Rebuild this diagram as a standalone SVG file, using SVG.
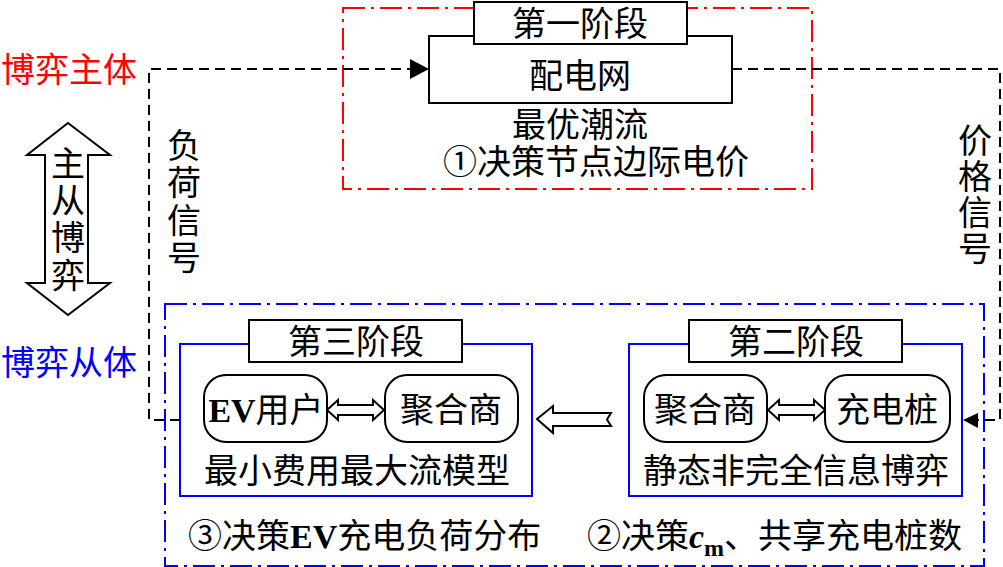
<svg xmlns="http://www.w3.org/2000/svg" width="1003" height="567" viewBox="0 0 1003 567">
<style>
text{font-family:"Liberation Serif","Noto Sans CJK SC",serif;font-size:34px;fill:#000}
.c{text-anchor:middle}
.box{fill:#fff;stroke:#000;stroke-width:2}
.blue{fill:none;stroke:#0000ff;stroke-width:2}
.rbox{fill:#fff;stroke:#000;stroke-width:2}
.dash{fill:none;stroke:#000;stroke-width:2;stroke-dasharray:10 6}
.hollow{fill:#fff;stroke:#000;stroke-width:2;stroke-linejoin:miter}
.lat{font-family:"Liberation Serif",serif;font-weight:bold}
</style>
<rect width="1003" height="567" fill="#fff"/>
<g id="stage1-region">
<rect x="343" y="8" width="469" height="181" fill="none" stroke="#ff0000" stroke-width="2" stroke-dasharray="22 6 3 6"/>
</g>
<g id="stage23-region">
<rect x="165" y="304" width="819" height="262" fill="none" stroke="#0000ff" stroke-width="2" stroke-dasharray="22 6 3 6"/>
</g>
<g id="labels">
<text x="1" y="82" style="fill:#ff0000">博弈主体</text>
<text x="1" y="375" style="fill:#0000ff">博弈从体</text>
</g>
<g id="leader-follower">
<polygon class="hollow" points="68,123 110,155 88,155 88,283 110,283 68,315 27,283 45,283 45,155 27,155"/>
<text class="c" x="68" y="176">主</text>
<text class="c" x="68" y="213">从</text>
<text class="c" x="68" y="250">博</text>
<text class="c" x="68" y="288">弈</text>
</g>
<g id="connectors">
<polyline class="dash" points="180,420 149,420 149,69 414,69"/>
<polygon points="429,69 410,59 410,79" fill="#000"/>
<polyline class="dash" points="732,69 1000,69 1000,420 976,420"/>
<polygon points="963,420 978,413 978,428" fill="#000"/>
<polygon class="hollow" points="537,419 553,406 553,413 611,413 607,419.5 611,426 553,426 553,433"/>
</g>
<g id="load-signal">
<text class="c" x="184" y="158">负</text>
<text class="c" x="184" y="195">荷</text>
<text class="c" x="184" y="233">信</text>
<text class="c" x="184" y="270">号</text>
</g>
<g id="price-signal">
<text class="c" x="975" y="153">价</text>
<text class="c" x="975" y="189">格</text>
<text class="c" x="975" y="225">信</text>
<text class="c" x="975" y="261">号</text>
</g>
<g id="distribution-network">
<rect class="box" x="429" y="36" width="303" height="67"/>
<rect class="box" x="474" y="2" width="213" height="42"/>
<text class="c" x="580" y="36">第一阶段</text>
<text class="c" x="580" y="88">配电网</text>
<text class="c" x="580" y="137">最优潮流</text>
<text class="c" x="596" y="174">①决策节点边际电价</text>
</g>
<g id="stage3">
<rect class="blue" x="180" y="344" width="352" height="152"/>
<rect class="box" x="249" y="320" width="213" height="42"/>
<text class="c" x="356" y="354">第三阶段</text>
<rect class="rbox" x="204" y="375" width="123" height="67" rx="22"/>
<text class="c" x="266" y="422"><tspan class="lat">EV</tspan>用户</text>
<rect class="rbox" x="385" y="375" width="133" height="67" rx="22"/>
<text class="c" x="451" y="422">聚合商</text>
<polygon class="hollow" points="327,410 338,400 338,405 373,405 373,400 384,410 373,420 373,415 338,415 338,420"/>
<text class="c" x="357" y="483">最小费用最大流模型</text>
</g>
<g id="stage2">
<rect class="blue" x="629" y="344" width="333" height="152"/>
<rect class="box" x="689" y="320" width="213" height="42"/>
<text class="c" x="796" y="354">第二阶段</text>
<rect class="rbox" x="644" y="375" width="123" height="67" rx="22"/>
<text class="c" x="705" y="422">聚合商</text>
<rect class="rbox" x="825" y="375" width="125" height="67" rx="22"/>
<text class="c" x="887" y="422">充电桩</text>
<polygon class="hollow" points="768,410 779,400 779,405 814,405 814,400 825,410 814,420 814,415 779,415 779,420"/>
<text class="c" x="796" y="483">静态非完全信息博弈</text>
</g>
<g id="decisions">
<text x="188" y="548">③决策<tspan class="lat">EV</tspan>充电负荷分布</text>
<text x="587" y="548">②决策<tspan class="lat" font-style="italic">c</tspan><tspan class="lat" font-size="24" dy="8">m</tspan><tspan dy="-8">、共享充电桩数</tspan></text>
</g>
</svg>
